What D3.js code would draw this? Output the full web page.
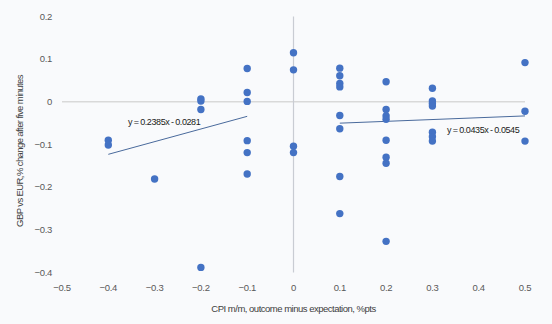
<!DOCTYPE html>
<html><head><meta charset="utf-8">
<script src="https://cdn.jsdelivr.net/npm/d3@7"></script>
<style>
html,body{margin:0;padding:0;background:#f9fafc;}
svg{display:block;font-family:"Liberation Sans",Arial,sans-serif;}
</style></head>
<body><svg id="c" width="552" height="324"></svg>
<script>
const xValues = [-0.4,-0.4,-0.3,-0.2,-0.2,-0.2,-0.2,-0.1,-0.1,-0.1,-0.1,-0.1,-0.1,0,0,0,0,
  0.1,0.1,0.1,0.1,0.1,0.1,0.1,0.1,0.2,0.2,0.2,0.2,0.2,0.2,0.2,0.2,0.3,0.3,0.3,0.3,0.3,0.3,0.3,0.5,0.5,0.5];
const yValues = [-0.090,-0.101,-0.181,0.007,0.002,-0.018,-0.388,0.078,0.022,0.001,-0.091,-0.119,-0.169,0.115,0.075,-0.104,-0.119,
  0.079,0.061,0.043,0.035,-0.032,-0.063,-0.175,-0.262,0.047,-0.018,-0.033,-0.041,-0.090,-0.130,-0.144,-0.327,0.032,0.002,-0.004,-0.010,-0.071,-0.082,-0.092,0.092,-0.022,-0.092];
const xTicks = [-0.5,-0.4,-0.3,-0.2,-0.1,0,0.1,0.2,0.3,0.4,0.5];
const yTicks = [0.2,0.1,0,-0.1,-0.2,-0.3,-0.4];
const trendLeftX = [-0.4,-0.1], trendLeftY = [-0.123,-0.034];
const trendRightX = [0.1,0.5], trendRightY = [-0.050,-0.033];
const trendLabels = ["y = 0.2385x - 0.0281","y = 0.0435x - 0.0545"];
const xTitle = "CPI m/m, outcome minus expectation, %pts";
const yTitle = "GBP vs EUR,% change after five minutes";

const svg = d3.select("#c");
const x = d3.scaleLinear().domain([-0.5,0.5]).range([62,525]);
const y = d3.scaleLinear().domain([-0.4,0.2]).range([272.5,16.5]);
const fmt = d => d===0 ? "0" : d3.format(".1f")(d);

// axes lines
svg.append("line").attr("x1",x(-0.5)).attr("x2",x(0.5)).attr("y1",y(0)).attr("y2",y(0))
  .attr("stroke","#d9d9d9").attr("stroke-width",1.5);
svg.append("line").attr("x1",x(0)).attr("x2",x(0)).attr("y1",y(0.2)).attr("y2",y(-0.4))
  .attr("stroke","#c9ccd3").attr("stroke-width",1.2);

// tick labels
svg.append("g").selectAll("text").data(yTicks).join("text")
  .attr("x",52).attr("y",d=>y(d)).attr("dy","0.35em").attr("text-anchor","end")
  .attr("font-size",9.5).attr("fill","#595959").attr("letter-spacing",-0.3).text(fmt);
svg.append("g").selectAll("text").data(xTicks).join("text")
  .attr("x",d=>x(d)).attr("y",288).attr("dy","0.35em").attr("text-anchor","middle")
  .attr("font-size",9.5).attr("fill","#595959").attr("letter-spacing",-0.3).text(fmt);

// titles
svg.append("text").attr("x",x(0)).attr("y",309).attr("dy","0.35em").attr("text-anchor","middle")
  .attr("font-size",9.5).attr("fill","#404040").attr("letter-spacing",-0.5).text(xTitle);
svg.append("text").attr("transform","translate(20,151) rotate(-90)").attr("dy","0.35em")
  .attr("text-anchor","middle").attr("font-size",9.5).attr("fill","#404040").attr("letter-spacing",-0.6).text(yTitle);

// trend lines
const line = d3.line().x(d=>x(d[0])).y(d=>y(d[1]));
[[trendLeftX,trendLeftY],[trendRightX,trendRightY]].forEach(([xs,ys])=>{
  svg.append("path").attr("d",line(d3.zip(xs,ys))).attr("fill","none")
    .attr("stroke","#4a6a9c").attr("stroke-width",1);
});

// points
svg.append("g").selectAll("circle").data(d3.zip(xValues,yValues)).join("circle")
  .attr("cx",d=>x(d[0])).attr("cy",d=>y(d[1])).attr("r",3.7).attr("fill","#4472c4");

// trend labels
svg.append("text").attr("x",128).attr("y",122).attr("dy","0.35em").attr("font-size",9)
  .attr("fill","#1a1a1a").attr("letter-spacing",-0.4).attr("word-spacing",-0.5).text(trendLabels[0]);
svg.append("text").attr("x",447).attr("y",129.5).attr("dy","0.35em").attr("font-size",9)
  .attr("fill","#1a1a1a").attr("letter-spacing",-0.4).attr("word-spacing",-0.5).text(trendLabels[1]);
</script></body></html>
